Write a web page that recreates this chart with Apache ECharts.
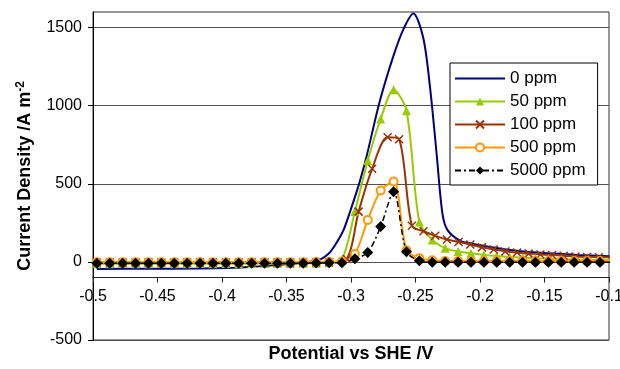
<!DOCTYPE html>
<html><head><meta charset="utf-8">
<script src="https://cdn.jsdelivr.net/npm/echarts@6/dist/echarts.min.js"></script>
<style>html,body{margin:0;padding:0;background:#fff}#c{width:620px;height:369px}</style>
</head><body><div id="c"></div>
<script>
// ---- data ----
const seriesNames = ['0 ppm', '50 ppm', '100 ppm', '500 ppm', '5000 ppm'];
const yTickValues = [-500, 0, 500, 1000, 1500];

// common potential grid (V vs SHE) for the 50, 500 and 5000 ppm scans
const potentials = [-0.497,-0.487,-0.477,-0.467,-0.457,-0.447,-0.437,-0.427,-0.417,-0.407,
  -0.397,-0.387,-0.377,-0.367,-0.357,-0.347,-0.337,-0.327,-0.317,-0.307,
  -0.297,-0.287,-0.277,-0.267,-0.257,-0.247,-0.237,-0.227,-0.217,-0.207,
  -0.197,-0.187,-0.177,-0.167,-0.157,-0.147,-0.137,-0.127,-0.117,-0.107,-0.097];

const ppm50 = [-12,-12,-11,-12,-12,-11,-12,-12,-11,-12,-11,-12,-11,-11,-10,-10,-9,-8,-6,
  15,322,650,915,1103,968,256,141,88,66,56,45,38,32,27,23,20,17,15,13,12,11];
const ppm500 = [-2,-2,-2,-2,-2,-2,-2,-2,-2,-2,-2,-2,-2,-2,-2,-2,-2,-1,0,
  3,50,269,457,515,75,24,10,6,5,5,5,5,5,5,5,5,5,5,5,5,5];
const ppm5000 = [-8,-8,-8,-8,-8,-8,-8,-8,-8,-8,-8,-8,-8,-8,-8,-8,-8,-7,-6,
  -5,20,61,226,449,65,8,-3,-3,-3,-3,-3,-3,-3,-3,-3,-3,-3,-3,-3,-3,-3];

// 0 ppm scan (no markers)
const pot0 = [-0.497,-0.46,-0.417,-0.39,-0.378,-0.365,-0.355,-0.345,-0.337,-0.33,-0.324,-0.317,
  -0.311,-0.306,-0.301,-0.2935,-0.288,-0.278,-0.2673,-0.2595,-0.2517,-0.244,-0.2385,-0.2335,
  -0.2292,-0.2253,-0.2152,-0.205,-0.192,-0.175,-0.153,-0.125,-0.0997];
const ppm0 = [-45,-44,-42,-37,-32,-25,-19,-12,-6,4,15,55,
  125,200,315,506,673,1019,1314,1487,1590,1435,1100,680,
  314,205,135,115,96,75,58,45,36];

// 100 ppm scan
const pot100 = [-0.497,-0.487,-0.477,-0.467,-0.457,-0.447,-0.437,-0.427,-0.417,-0.407,
  -0.397,-0.387,-0.377,-0.367,-0.357,-0.347,-0.337,-0.327,-0.317,
  -0.3033,-0.2941,-0.2836,-0.2716,-0.2627,-0.2528,-0.2438,-0.2347,-0.2256,-0.2166,-0.2075,
  -0.1985,-0.1894,-0.1804,-0.1713,-0.1623,-0.1532,-0.1441,-0.1351,-0.126,-0.117,-0.1079,-0.0988];
const ppm100 = [-4,-4,-4,-4,-4,-4,-4,-4,-4,-4,-4,-4,-4,-4,-4,-4,-4,-3,-2,
  19,322,596,798,785,231,196,167,144,128,112,
  93,80,67,60,53,48,44,40,35,32,30,29];

// ---- chart ----
const pair = (xs, ys) => xs.map((x, i) => [x, ys[i]]);
const FONT = 'Liberation Sans, Arial, Helvetica, sans-serif';

const chart = echarts.init(document.getElementById('c'), null, {renderer: 'canvas'});
chart.setOption({
  animation: false,
  backgroundColor: '#fff',
  textStyle: {fontFamily: FONT},
  grid: {left: 93, right: 11, top: 12, bottom: 29, show: true, borderColor: '#333', borderWidth: 1,
         containLabel: false, outerBoundsMode: 'none'},
  legend: {
    data: [
      {name: seriesNames[0], itemStyle: {opacity: 0}},
      seriesNames[1], seriesNames[2], seriesNames[3], seriesNames[4]
    ],
    orient: 'vertical', left: 450, top: 63,
    itemWidth: 50, itemHeight: 10, itemGap: 6, padding: [7, 12, 6, 4],
    backgroundColor: '#fff', borderColor: '#000', borderWidth: 1, borderRadius: 0,
    textStyle: {fontSize: 17, color: '#000', fontFamily: FONT}
  },
  xAxis: {
    type: 'value', min: -0.5, max: -0.1, interval: 0.05,
    offset: -62.5,
    axisLine: {onZero: false, lineStyle: {color: '#222', width: 1}},
    axisTick: {show: true, length: 5, lineStyle: {color: '#222'}},
    axisLabel: {fontSize: 16, color: '#000', margin: 11, fontFamily: FONT},
    splitLine: {show: false},
    name: 'Potential vs SHE /V', nameLocation: 'middle', nameGap: 68,
    nameTextStyle: {fontSize: 18, fontWeight: 'bold', color: '#000', fontFamily: FONT}
  },
  yAxis: {
    type: 'value', min: -500, max: 1600, interval: 500,
    axisLine: {show: true, lineStyle: {color: '#000', width: 1}},
    axisTick: {show: true, length: 5, lineStyle: {color: '#000'}, customValues: yTickValues},
    axisLabel: {fontSize: 16, color: '#000', margin: 11, customValues: yTickValues, fontFamily: FONT,
      formatter: v => String(v)},
    splitLine: {show: true, lineStyle: {color: '#505050', width: 1}},
    name: 'Current Density /A m{sup|-2}', nameLocation: 'middle', nameGap: 57, nameRotate: 90,
    nameTextStyle: {fontSize: 18, fontWeight: 'bold', color: '#000', fontFamily: FONT,
      rich: {sup: {fontSize: 12, fontWeight: 'bold', color: '#000', verticalAlign: 'top', padding: [0, 0, 9, 0], fontFamily: FONT}}}
  },
  series: [
    {name: seriesNames[0], type: 'line', data: pair(pot0, ppm0), smooth: 0.3, symbol: 'none',
     lineStyle: {color: '#000080', width: 2}, itemStyle: {color: '#000080'}},
    {name: seriesNames[1], type: 'line', data: pair(potentials, ppm50), smooth: 0.3,
     symbol: 'triangle', symbolSize: 9, showAllSymbol: true,
     lineStyle: {color: '#99cc00', width: 2}, itemStyle: {color: '#99cc00'}},
    {name: seriesNames[2], type: 'line', data: pair(pot100, ppm100), smooth: 0.3,
     symbol: 'path://M0,0L10,10M10,0L0,10', symbolSize: 8, showAllSymbol: true,
     lineStyle: {color: '#993300', width: 2},
     itemStyle: {color: '#993300', borderColor: '#993300', borderWidth: 1.5}},
    {name: seriesNames[3], type: 'line', data: pair(potentials, ppm500), smooth: 0.3,
     symbol: 'emptyCircle', symbolSize: 8, showAllSymbol: true,
     lineStyle: {color: '#ff9900', width: 2}, itemStyle: {color: '#ff9900', borderWidth: 1.5}},
    {name: seriesNames[4], type: 'line', data: pair(potentials, ppm5000), smooth: 0.3,
     symbol: 'diamond', symbolSize: 11, showAllSymbol: true,
     lineStyle: {color: '#000', width: 1.5, type: [6, 3, 2, 3]}, itemStyle: {color: '#000'}}
  ]
});
</script></body></html>
